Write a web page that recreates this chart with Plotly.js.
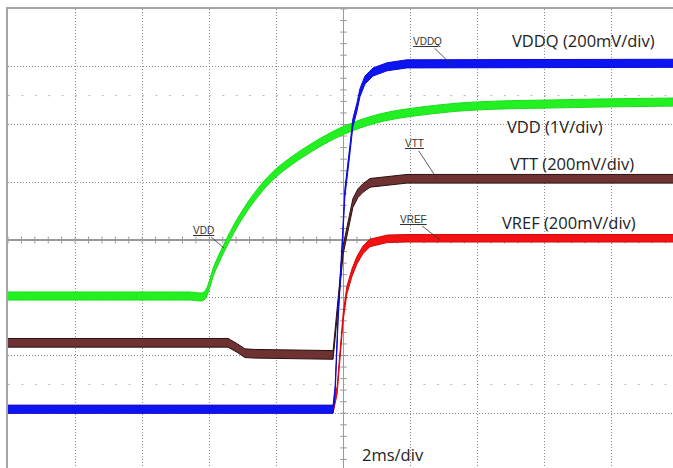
<!DOCTYPE html>
<html>
<head>
<meta charset="utf-8">
<script src="https://cdn.plot.ly/plotly-3.0.1.min.js"></script>
<style>
html,body{margin:0;padding:0;overflow:hidden;background:#fff;}
#chart{width:690px;height:480px;}
</style>
</head>
<body>
<div id="chart"></div>
<script>
// Time axis in ms (2 ms/div), vertical values in screen divisions
var vddT  = [-10, -4.6, -4.158, -3.860, -3.562, -3.204, -2.787, -2.340, -1.982, -1.595, -1.297, -0.700, -0.104, 0.492, 1.088, 1.684, 2.578, 3.472, 4.665, 6.155, 7.645, 10];
var vddY  = [-0.970, -0.970, -0.970, -0.519, -0.139, 0.260, 0.641, 0.970, 1.177, 1.351, 1.472, 1.688, 1.870, 2.009, 2.113, 2.182, 2.251, 2.303, 2.338, 2.355, 2.372, 2.390];

var vddqT = [-10, -0.31, -0.25, -0.16, -0.04, 0.04, 0.19, 0.28, 0.40, 0.49, 0.64, 0.88, 1.30, 1.89, 10];
var vddqY = [-2.93, -2.93, -2.60, -1.33, -0.09, 0.81, 1.56, 2.03, 2.30, 2.55, 2.77, 2.91, 3.00, 3.05, 3.06];

var vttT  = [-10, -3.44, -3.17, -2.94, -2.64, -0.31, -0.01, 0.10, 0.19, 0.28, 0.43, 0.58, 0.79, 1.30, 1.89, 10];
var vttY  = [-1.78, -1.78, -1.87, -1.96, -1.97, -1.99, -0.17, 0.12, 0.40, 0.64, 0.81, 0.90, 0.99, 1.02, 1.06, 1.06];

var vrefT = [-10, -0.31, -0.19, -0.10, -0.01, 0.10, 0.25, 0.40, 0.58, 0.79, 1.30, 1.89, 10];
var vrefY = [-2.93, -2.93, -2.60, -1.90, -1.33, -0.87, -0.57, -0.35, -0.17, -0.05, 0.02, 0.03, 0.03];

var channelNames = ['VREF', 'VTT', 'VDD', 'VDDQ'];
var scaleLabels = ['VDDQ (200mV/div)', 'VDD (1V/div)', 'VTT (200mV/div)', 'VREF (200mV/div)'];
var timeLabel = '2ms/div';

function band(t, y, h, fillColor, edgeColor, name, shape) {
  var lo = y.map(function(v){return v - h;});
  var hi = y.map(function(v){return v + h;});
  var ln = {color: edgeColor, width: 1, shape: shape || 'linear'};
  if (shape === 'spline') ln.smoothing = 0.8;
  return [
    {x: t, y: lo, mode: 'lines', line: ln, hoverinfo: 'skip', showlegend: false, name: name},
    {x: t, y: hi, mode: 'lines', fill: 'tonexty', fillcolor: fillColor, line: ln, hoverinfo: 'skip', showlegend: false, name: name}
  ];
}

var traces = [];
traces = traces.concat(band(vrefT, vrefY, 0.065, '#f21212', '#d80a0a', channelNames[0]));
traces = traces.concat(band(vttT, vttY, 0.075, '#6e3232', '#2a1010', channelNames[1]));
traces = traces.concat(band(vddT, vddY, 0.07, '#22f022', '#18dc18', channelNames[2], 'spline'));
traces = traces.concat(band(vddqT, vddqY, 0.07, '#0c14f2', '#0a0ad8', channelNames[3]));

var shapes = [];
// minor ticks on the centre cross
for (var i = -25; i <= 25; i++) {
  var tx = i * 0.4;
  shapes.push({type: 'line', xref: 'x', yref: 'y', x0: tx, x1: tx, y0: -0.06, y1: 0.06, line: {color: '#9a9a9a', width: 1}, layer: 'below'});
}
for (var j = -20; j <= 20; j++) {
  var ty = j * 0.2;
  shapes.push({type: 'line', xref: 'x', yref: 'y', x0: -0.1, x1: 0.1, y0: ty, y1: ty, line: {color: '#9a9a9a', width: 1}, layer: 'below'});
}
// faint cursor dotted lines
[2.5, -2.5].forEach(function(v){
  shapes.push({type: 'line', xref: 'paper', yref: 'y', x0: 0, x1: 1, y0: v, y1: v, line: {color: '#b4b4b4', width: 1, dash: '2px,11.4px'}, layer: 'below'});
});

var bigFont = {family: 'Open Sans, sans-serif', size: 16.5, color: '#222'};
var smallFont = {family: 'Liberation Sans, Arial, sans-serif', size: 10, color: '#333'};

var annotations = [
  {x: 4.96, y: 3.45, text: scaleLabels[0], xanchor: 'left', yanchor: 'middle', showarrow: false, font: bigFont},
  {x: 4.81, y: 1.96, text: scaleLabels[1], xanchor: 'left', yanchor: 'middle', showarrow: false, font: bigFont},
  {x: 4.90, y: 1.33, text: scaleLabels[2], xanchor: 'left', yanchor: 'middle', showarrow: false, font: bigFont},
  {x: 4.66, y: 0.31, text: scaleLabels[3], xanchor: 'left', yanchor: 'middle', showarrow: false, font: bigFont},
  {x: 0.49, y: -3.72, text: timeLabel, xanchor: 'left', yanchor: 'middle', showarrow: false, font: bigFont},
  {x: 3.27, y: 3.01, ax: -26, ay: -25, text: '<u>' + channelNames[3] + '</u>', showarrow: true, arrowhead: 0, arrowwidth: 0.8, arrowcolor: '#333', font: smallFont},
  {x: -3.56, y: -0.14, ax: -21, ay: -18, text: '<u>' + channelNames[2] + '</u>', showarrow: true, arrowhead: 0, arrowwidth: 0.8, arrowcolor: '#333', font: smallFont},
  {x: 2.79, y: 1.06, ax: -23, ay: -35, text: '<u>' + channelNames[1] + '</u>', showarrow: true, arrowhead: 0, arrowwidth: 0.8, arrowcolor: '#333', font: smallFont},
  {x: 2.88, y: 0.0, ax: -27, ay: -21, text: '<u>' + channelNames[0] + '</u>', showarrow: true, arrowhead: 0, arrowwidth: 0.8, arrowcolor: '#333', font: smallFont}
];

var axisCommon = {
  showgrid: true, gridcolor: '#8c8c8c', gridwidth: 1, griddash: '1px,2px',
  zeroline: true, zerolinecolor: '#9a9a9a', zerolinewidth: 1.5,
  showline: true, mirror: true, linecolor: '#a6a6a6', linewidth: 2,
  showticklabels: false, ticks: '', fixedrange: true
};

var layout = {
  width: 690, height: 480,
  margin: {l: 8, r: 11, t: 9, b: 9, pad: 0},
  paper_bgcolor: '#ffffff', plot_bgcolor: '#ffffff',
  showlegend: false,
  xaxis: Object.assign({range: [-10, 10], dtick: 2, tick0: 0}, axisCommon),
  yaxis: Object.assign({range: [-4, 4], dtick: 1, tick0: 0}, axisCommon),
  shapes: shapes,
  annotations: annotations
};

Plotly.newPlot('chart', traces, layout, {displayModeBar: false, staticPlot: true});
</script>
</body>
</html>
